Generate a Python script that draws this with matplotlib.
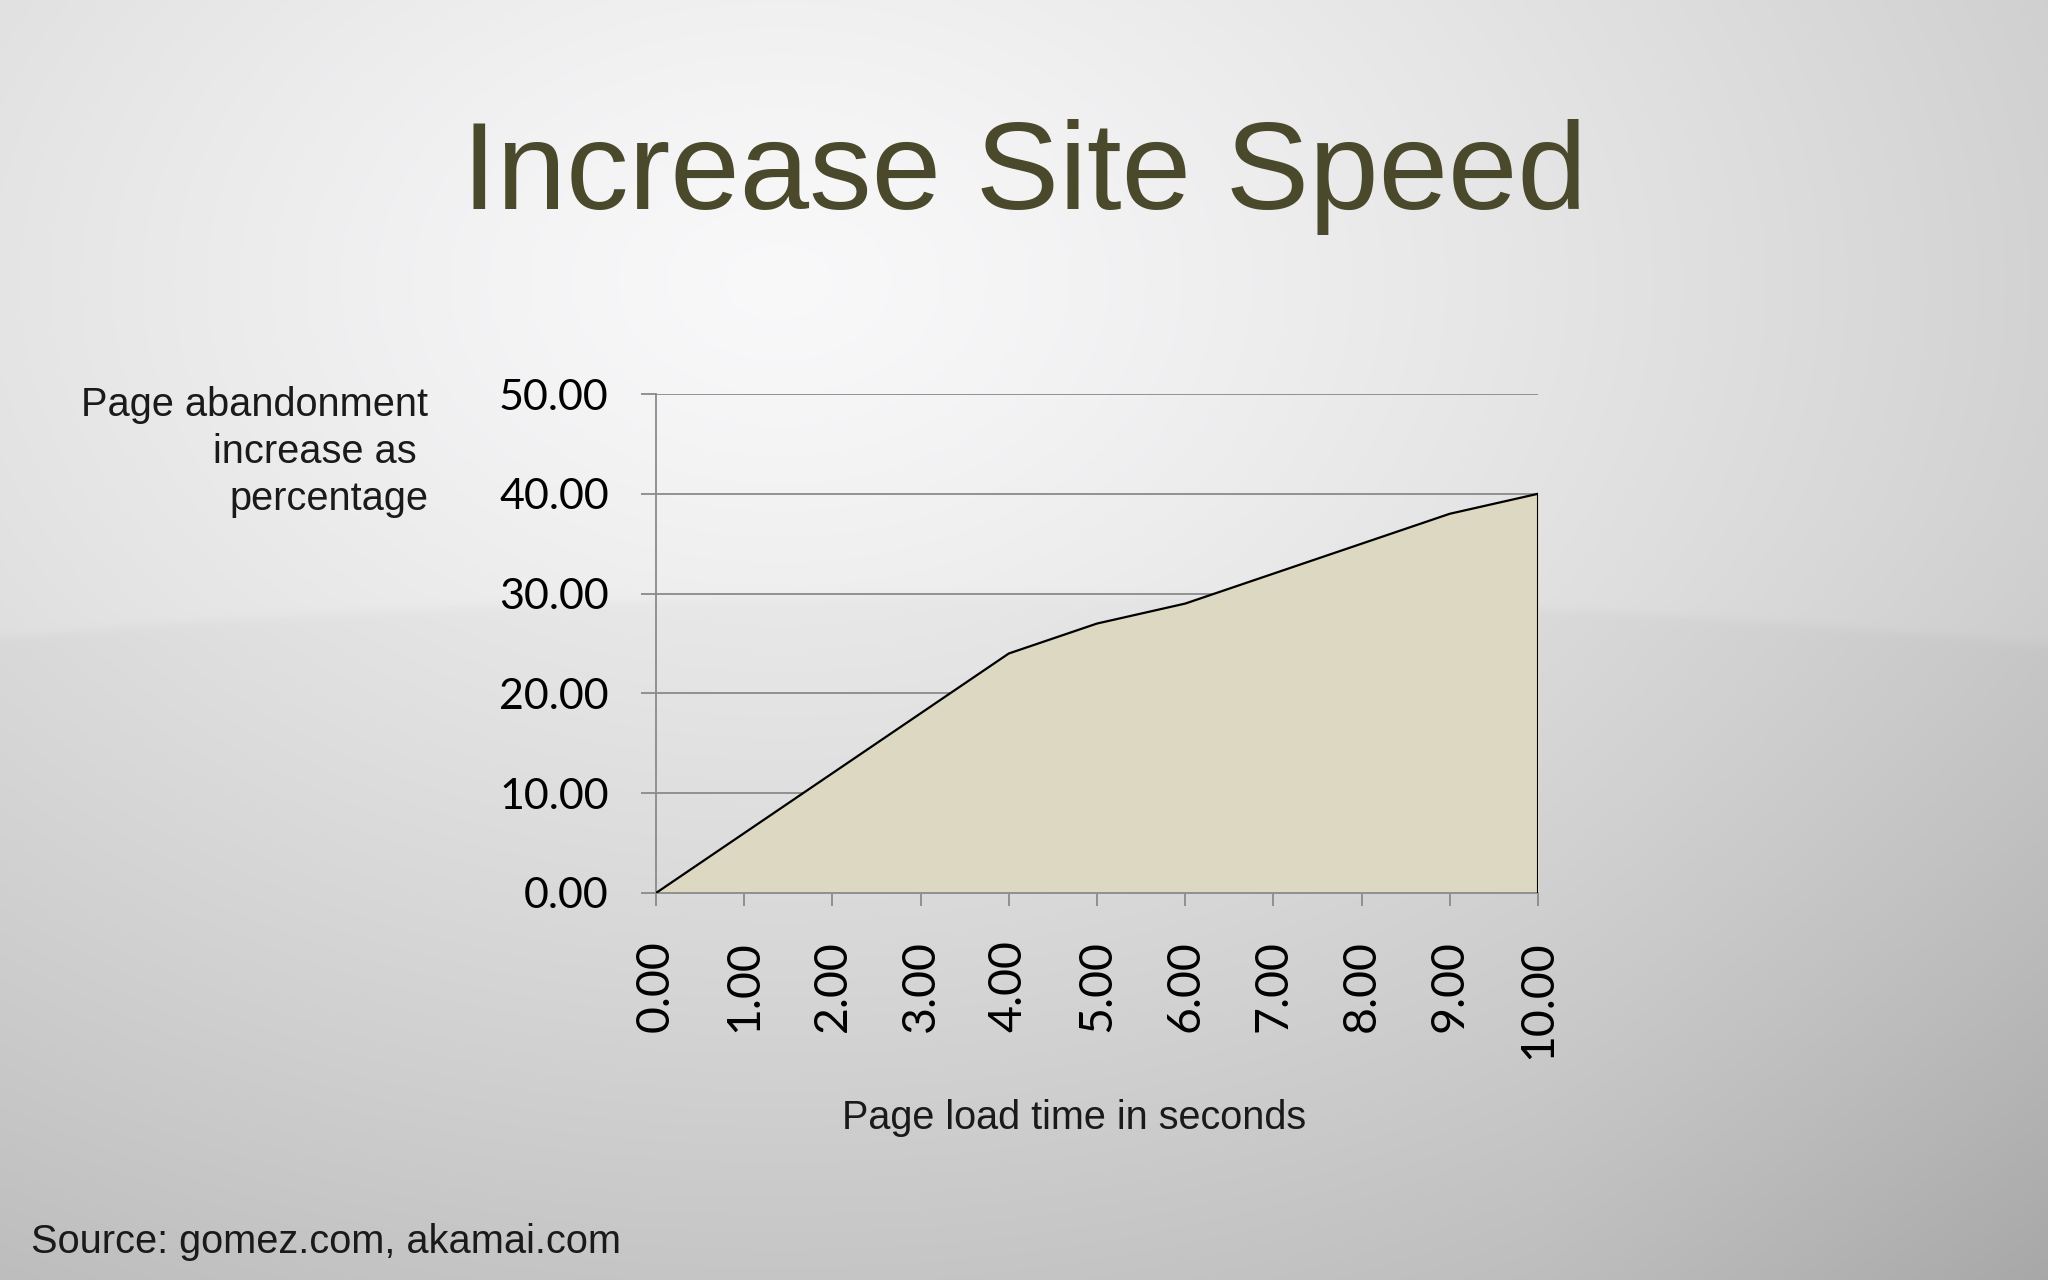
import numpy as np
import matplotlib
matplotlib.use("Agg")
import matplotlib.pyplot as plt

# Data
load_time = [0, 1, 2, 3, 4, 5, 6, 7, 8, 9, 10]
abandonment = [0, 6, 12, 18, 24, 27, 29, 32, 35, 38, 40]
y_ticks = [0, 10, 20, 30, 40, 50]
title = "Increase Site Speed"
y_label = "Page abandonment\nincrease as \npercentage"
x_label = "Page load time in seconds"
source = "Source: gomez.com, akamai.com"

W, H = 2048, 1280
fig = plt.figure(figsize=(W / 100, H / 100), dpi=100)

# background gradient
bg = fig.add_axes([0, 0, 1, 1])
yy, xx = np.mgrid[0:H:2, 0:W:2]
xn = xx / W
yn = yy / H
d = np.sqrt(((xn - 0.38) * 1.0) ** 2 + ((yn - 0.22) * 0.9) ** 2)
val = 0.975 - 0.28 * d ** 1.3
arc = 0.464 + 0.036 * ((xn - 0.48) / 0.5) ** 2
val = val - 0.025 * (0.5 + 0.5 * np.tanh((yn - arc) / 0.004))
val = val - 0.06 * np.clip(xn - 0.75, 0, None) * np.clip(yn - 0.4, 0, None) * 4
rgb = np.dstack([val, val, val * 1.005])
bg.imshow(np.clip(rgb, 0, 1), extent=[0, 1, 0, 1], aspect="auto", origin="upper",
          interpolation="bilinear")
bg.set_axis_off()

ax = fig.add_axes([656 / W, 1 - 893 / H, 882 / W, 499 / H])
ax.set_facecolor("none")
ax.fill_between(load_time, abandonment, 0, color="#dcd8c2", zorder=2)
ax.plot(load_time, abandonment, color="black", lw=1.6, zorder=3)
ax.plot([load_time[-1], load_time[-1]], [0, abandonment[-1]], color="black", lw=1.5, zorder=3)
ax.set_xlim(0, 10)
ax.set_ylim(0, 50)
ax.set_xticks(load_time)
ax.set_yticks(y_ticks)
ax.set_xticklabels([f"{v:.2f}" for v in load_time], rotation=90, va="top",
                   fontsize=33.5, family="Lato")
ax.set_yticklabels([f"{v:.2f}" for v in y_ticks], fontsize=31, family="Lato")
ax.grid(axis="y", color="#8a8a8a", lw=1.3, zorder=1)
for s in ["top", "right"]:
    ax.spines[s].set_visible(False)
for s in ["left", "bottom"]:
    ax.spines[s].set_color("#8a8a8a")
    ax.spines[s].set_linewidth(1.3)
ax.tick_params(axis="y", length=11, width=1.3, color="#8a8a8a", pad=23)
ax.tick_params(axis="x", length=9, width=1.3, color="#8a8a8a", pad=25)

fig.text(1024 / W, 1 - 209 / H, title, ha="center", va="baseline", fontsize=90,
         color="#4a492c", family="Liberation Sans")
fig.text(428 / W, 1 - 452 / H, y_label, ha="right", va="center", fontsize=28.6,
         color="#1a1a1a", family="Liberation Sans", linespacing=1.3)
fig.text(1074 / W, 1 - 1118 / H, x_label, ha="center", va="center", fontsize=28.5,
         color="#1a1a1a", family="Liberation Sans")
fig.text(31 / W, 1 - 1242 / H, source, ha="left", va="center", fontsize=28.6,
         color="#1a1a1a", family="Liberation Sans")

fig.savefig("out.png", dpi=100)
